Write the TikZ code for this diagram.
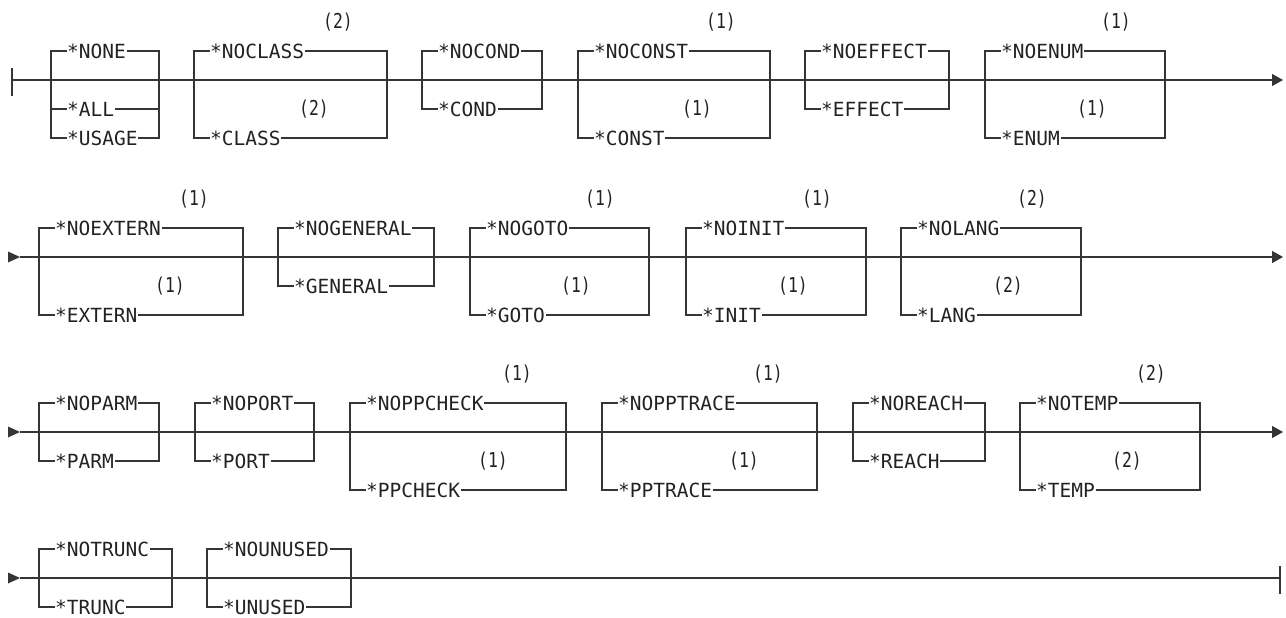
\documentclass[tikz,border=0pt]{standalone}
\usepackage{fontspec}
\usepackage{graphicx}
\newfontfamily\dmono{DejaVu Sans Mono}
\usetikzlibrary{arrows.meta}
\definecolor{lc}{HTML}{353535}
\definecolor{tc}{HTML}{222222}
\tikzset{
  ln/.style={draw=lc, line width=1.3pt},
  opt/.style={inner xsep=0.5pt, inner ysep=0pt, text height=14.2pt, text depth=0pt,
              font=\dmono\fontsize{19.5}{20}\selectfont, text=tc, anchor=west},
  lab/.style={inner sep=0pt, font=\dmono\fontsize{20.5}{22}\selectfont, text=tc},
  endtip/.style={-{Triangle[length=11pt,width=12pt]}},
}
\newcommand\labtext[1]{\scalebox{0.8}[1]{#1}}
% #1 name, #2 left, #3 right, #4 row y, #5 top text, #6 bottom text,
% #7 bottom offset, #8 top label, #9 bottom label
\newcommand\obox[9]{%
  \coordinate (#1-tl) at (#2,#4-29);
  \coordinate (#1-tr) at (#3,#4-29);
  \coordinate (#1-bl) at (#2,#4+#7);
  \coordinate (#1-br) at (#3,#4+#7);
  \node[opt] (#1-t) at (#2+15.5,#4-29) {#5};
  \node[opt] (#1-b) at (#2+15.5,#4+#7) {#6};
  \draw[ln] (#1-t.west) -- (#1-tl) -- (#1-bl) -- (#1-b.west);
  \draw[ln] (#1-t.east) -- (#1-tr) -- (#1-br) -- (#1-b.east);
  \if\relax\detokenize{#8}\relax\else
    \node[lab] (#1-la) at (#3-49,#4-58) {\labtext{#8}};\fi
  \if\relax\detokenize{#9}\relax\else
    \node[lab] (#1-lb) at (#3-73,#4+29) {\labtext{#9}};\fi
}
\newcommand\starttri[1]{%
  \fill[lc] (8,#1-5.5) -- (20,#1) -- (8,#1+5.5) -- cycle;}
\begin{document}
\begin{tikzpicture}[x=1pt,y=-1pt]
\useasboundingbox (0,0) rectangle (1286,618);

% ---------- row 1 ----------
\coordinate (r1s) at (12,80);
\coordinate (r1e) at (1283,80);
\draw[ln] (12,68) -- (12,96);
\draw[ln,endtip] (r1s) -- (r1e);
\draw[draw=lc,line width=2pt] (21,80) -- (27,80);

\coordinate (nn-tl) at (51,51);
\coordinate (nn-tr) at (159,51);
\coordinate (nn-ml) at (51,109);
\coordinate (nn-mr) at (159,109);
\coordinate (nn-bl) at (51,138);
\coordinate (nn-br) at (159,138);
\node[opt] (nn-t) at (66.5,51) {*NONE};
\node[opt] (nn-m) at (66.5,109) {*ALL};
\node[opt] (nn-b) at (66.5,138) {*USAGE};
\draw[ln] (nn-t.west) -- (nn-tl) -- (nn-bl) -- (nn-b.west);
\draw[ln] (nn-t.east) -- (nn-tr) -- (nn-br) -- (nn-b.east);
\draw[ln] (nn-ml) -- (nn-m.west);
\draw[ln] (nn-m.east) -- (nn-mr);

\obox{cls}{194}{387}{80}{*NOCLASS}{*CLASS}{58}{(2)}{(2)}
\obox{cnd}{422}{542}{80}{*NOCOND}{*COND}{29}{}{}
\obox{cst}{578}{770}{80}{*NOCONST}{*CONST}{58}{(1)}{(1)}
\obox{eff}{805}{949}{80}{*NOEFFECT}{*EFFECT}{29}{}{}
\obox{enm}{985}{1165}{80}{*NOENUM}{*ENUM}{58}{(1)}{(1)}

% ---------- row 2 ----------
\starttri{257}
\coordinate (r2s) at (20,257);
\coordinate (r2e) at (1283,257);
\draw[ln,endtip] (r2s) -- (r2e);
\obox{ext}{39}{243}{257}{*NOEXTERN}{*EXTERN}{58}{(1)}{(1)}
\obox{gen}{278}{434}{257}{*NOGENERAL}{*GENERAL}{29}{}{}
\obox{gto}{470}{649}{257}{*NOGOTO}{*GOTO}{58}{(1)}{(1)}
\obox{ini}{686}{866}{257}{*NOINIT}{*INIT}{58}{(1)}{(1)}
\obox{lng}{901}{1081}{257}{*NOLANG}{*LANG}{58}{(2)}{(2)}

% ---------- row 3 ----------
\starttri{432}
\coordinate (r3s) at (20,432);
\coordinate (r3e) at (1283,432);
\draw[ln,endtip] (r3s) -- (r3e);
\obox{prm}{39}{159}{432}{*NOPARM}{*PARM}{29}{}{}
\obox{prt}{195}{314}{432}{*NOPORT}{*PORT}{29}{}{}
\obox{ppc}{350}{566}{432}{*NOPPCHECK}{*PPCHECK}{58}{(1)}{(1)}
\obox{ppt}{602}{817}{432}{*NOPPTRACE}{*PPTRACE}{58}{(1)}{(1)}
\obox{rch}{853}{985}{432}{*NOREACH}{*REACH}{29}{}{}
\obox{tmp}{1020}{1200}{432}{*NOTEMP}{*TEMP}{58}{(2)}{(2)}

% ---------- row 4 ----------
\starttri{578}
\coordinate (r4s) at (20,578);
\coordinate (r4e) at (1280,578);
\draw[ln] (r4s) -- (r4e);
\draw[ln] (1280,566) -- (1280,594);
\draw[draw=lc,line width=2pt] (357,578) -- (380,578);
\obox{trn}{39}{172}{578}{*NOTRUNC}{*TRUNC}{29}{}{}
\obox{uns}{207}{351}{578}{*NOUNUSED}{*UNUSED}{29}{}{}
\end{tikzpicture}
\end{document}
